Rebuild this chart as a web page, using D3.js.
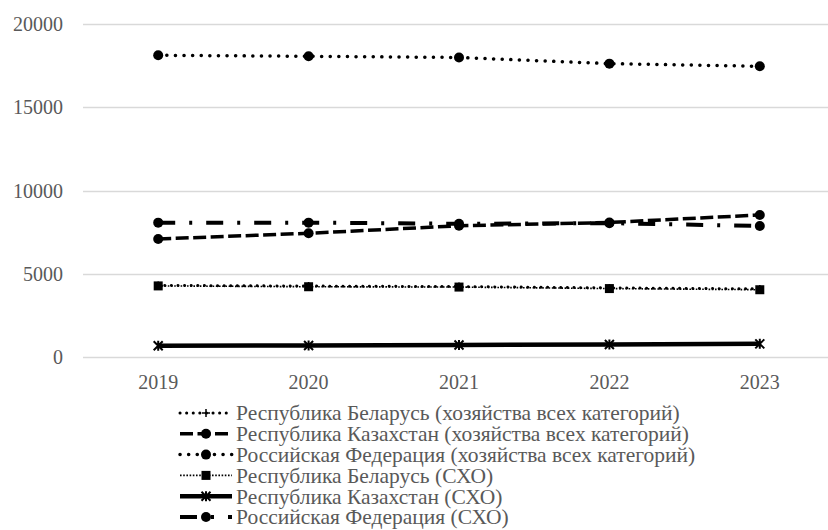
<!DOCTYPE html>
<html><head><meta charset="utf-8">
<script src="https://cdn.jsdelivr.net/npm/d3@7"></script>
<style>body{margin:0;background:#fff}svg{display:block}</style>
</head><body>
<svg id="c" width="828" height="530"></svg>
<script>
const years = ["2019","2020","2021","2022","2023"];
const yTicks = [0,5000,10000,15000,20000];
const seriesNames = [
  "Республика Беларусь (хозяйства всех категорий)",
  "Республика Казахстан (хозяйства всех категорий)",
  "Российская Федерация (хозяйства всех категорий)",
  "Республика Беларусь (СХО)",
  "Республика Казахстан (СХО)",
  "Российская Федерация (СХО)"
];
const byAll  = [4300, 4260, 4230, 4150, 4090];
const kzAll  = [7090, 7430, 7880, 8080, 8530];
const rfAll  = [18120, 18060, 17990, 17620, 17460];
const bySxo  = [4270, 4220, 4200, 4110, 4040];
const kzSxo  = [680, 690, 720, 750, 790];
const rfSxo  = [8070, 8070, 8000, 8040, 7870];
const seriesValues = [byAll, kzAll, rfAll, bySxo, kzSxo, rfSxo];

const styles = [
  {w:3,   dash:"0.1 6.5", cap:"round", marker:"plus"},
  {w:3.5, dash:"13 4.5", cap:"butt", marker:"circle"},
  {w:3.5, dash:"0.1 8.5", cap:"round", marker:"circle"},
  {w:1.6, dash:"1.6 1.6", cap:"butt", marker:"square"},
  {w:4.5, dash:null, cap:"butt", marker:"star"},
  {w:4,   dash:"17 14 3 14", cap:"butt", marker:"circle"}
];

const svg = d3.select("#c");
const x = d3.scaleBand().domain(years).range([83, 835]).padding(0);
const y = d3.scaleLinear().domain([0,20000]).range([357, 24]);
const cx = d => x(d) + x.bandwidth()/2;
const font = "Liberation Serif";

// gridlines
svg.append("g").selectAll("line").data(yTicks).join("line")
  .attr("x1", 83).attr("x2", 835)
  .attr("y1", d => Math.round(y(d))+0.5).attr("y2", d => Math.round(y(d))+0.5)
  .attr("stroke", "#d9d9d9").attr("stroke-width", 1.3);

// y labels
svg.append("g").selectAll("text").data(yTicks).join("text")
  .attr("x", 63).attr("y", d => y(d)).attr("dy", "0.35em")
  .attr("text-anchor", "end").attr("font-family", font).attr("font-size", 20)
  .attr("fill", "#595959").text(d => d);

// x labels
svg.append("g").selectAll("text").data(years).join("text")
  .attr("x", d => cx(d)).attr("y", 382).attr("dy", "0.35em")
  .attr("text-anchor", "middle").attr("font-family", font).attr("font-size", 20)
  .attr("fill", "#595959").text(d => d);

function drawMarker(g, type, px, py) {
  if (type === "circle") {
    g.append("circle").attr("cx", px).attr("cy", py).attr("r", 5).attr("fill", "#000");
  } else if (type === "square") {
    g.append("rect").attr("x", px-4.5).attr("y", py-4.5).attr("width", 9).attr("height", 9).attr("fill", "#000");
  } else if (type === "plus") {
    g.append("path").attr("d", `M${px-4},${py}H${px+4}M${px},${py-4}V${py+4}`)
      .attr("stroke", "#000").attr("stroke-width", 1.5);
  } else if (type === "star") {
    g.append("path").attr("d", `M${px-4.5},${py-4.5}L${px+4.5},${py+4.5}M${px-4.5},${py+4.5}L${px+4.5},${py-4.5}M${px},${py-5}V${py+5}`)
      .attr("stroke", "#000").attr("stroke-width", 2);
  }
}

const line = d3.line().x((d,i) => cx(years[i])).y(d => y(d));
const drawOrder = [4, 3, 0, 1, 5, 2];
drawOrder.forEach(si => {
  const st = styles[si];
  const g = svg.append("g");
  const p = g.append("path").datum(seriesValues[si]).attr("d", line)
    .attr("fill", "none").attr("stroke", "#000").attr("stroke-width", st.w)
    .attr("stroke-linecap", st.cap);
  if (st.dash) p.attr("stroke-dasharray", st.dash);
  seriesValues[si].forEach((v,i) => drawMarker(g, st.marker, cx(years[i]), y(v)));
});

// legend
const lg = svg.append("g");
seriesNames.forEach((name, i) => {
  const st = styles[i];
  const ly = 413 + i*20.8;
  const l = lg.append("line").attr("x1", 180).attr("x2", 232).attr("y1", ly).attr("y2", ly)
    .attr("stroke", "#000").attr("stroke-width", st.w).attr("stroke-linecap", st.cap);
  if (st.dash) l.attr("stroke-dasharray", st.dash);
  drawMarker(lg, st.marker, 206, ly);
  lg.append("text").attr("x", 236).attr("y", ly).attr("dy", "0.34em")
    .attr("font-family", font).attr("font-size", 21.5).attr("fill", "#595959").text(name);
});
</script>
</body></html>
